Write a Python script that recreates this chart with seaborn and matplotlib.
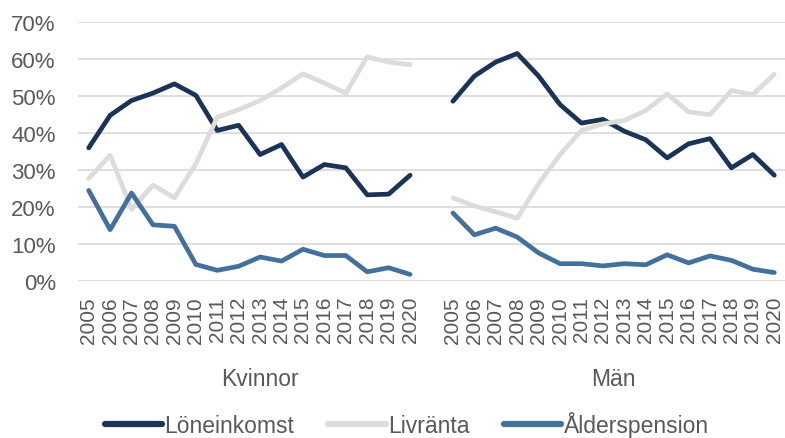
# Inkomstkällor per år, kvinnor och män, 2005-2020
import numpy as np
import pandas as pd
import matplotlib
matplotlib.use("Agg")
import matplotlib.pyplot as plt
import seaborn as sns

# Data (andel i procent)
years = list(range(2005, 2021))
groups = ["Kvinnor", "Män"]
series = ["Löneinkomst", "Livränta", "Ålderspension"]
colors = ["#1B3356", "#DDDCD8", "#44719B"]

kvinnor_lone = [35.9, 44.7, 48.7, 50.7, 53.2, 50.1, 40.6, 42.0, 34.1, 36.8, 28.0, 31.4, 30.5, 23.2, 23.4, 28.5]
kvinnor_livr = [27.6, 33.9, 19.3, 25.8, 22.4, 31.6, 44.2, 46.2, 48.7, 52.1, 55.9, 53.4, 50.7, 60.5, 59.1, 58.4]
kvinnor_alder = [24.4, 13.8, 23.7, 15.1, 14.7, 4.4, 2.8, 3.9, 6.4, 5.3, 8.5, 6.8, 6.8, 2.4, 3.5, 1.7]

man_lone = [48.5, 55.3, 59.1, 61.4, 55.3, 47.6, 42.6, 43.6, 40.4, 38.1, 33.2, 37.0, 38.4, 30.5, 34.1, 28.5]
man_livr = [22.4, 20.2, 18.6, 16.9, 26.2, 34.1, 40.6, 42.4, 43.3, 46.0, 50.5, 45.6, 44.9, 51.4, 50.3, 55.8]
man_alder = [18.3, 12.4, 14.2, 11.8, 7.5, 4.6, 4.6, 4.0, 4.6, 4.3, 7.0, 4.8, 6.7, 5.5, 3.1, 2.2]

values = {
    "Kvinnor": [kvinnor_lone, kvinnor_livr, kvinnor_alder],
    "Män": [man_lone, man_livr, man_alder],
}

# kategoriaxel: kvinnor, en tom plats, män
categories = [str(y) for y in years] + [""] + [str(y) for y in years]
offsets = {"Kvinnor": 0, "Män": len(years) + 1}

rows = []
for g in groups:
    for s, vals in zip(series, values[g]):
        for i, v in enumerate(vals):
            rows.append((g, s, offsets[g] + i, v / 100))
df = pd.DataFrame(rows, columns=["Grupp", "Serie", "Pos", "Andel"])

sns.set_theme(style="white")
plt.rcParams["font.family"] = ["Liberation Sans", "DejaVu Sans"]
text_color = "#595959"

fig = plt.figure(figsize=(7.85, 4.39), dpi=100)
ax = fig.add_axes([78 / 785, (439 - 281.7) / 439, 707 / 785, 259 / 439])

sns.lineplot(
    data=df, x="Pos", y="Andel", hue="Serie", units="Grupp", estimator=None,
    palette=colors, hue_order=series, linewidth=3.4, ax=ax, legend=False,
)

ax.set_xlim(-0.5, len(categories) - 0.5)
ax.set_ylim(0, 0.7)
ax.set_yticks(np.arange(0, 0.71, 0.1))
ax.set_yticklabels([f"{int(round(t * 100))}%" for t in np.arange(0, 0.71, 0.1)],
                   fontsize=16, color=text_color)
tick_pos = [i for i, c in enumerate(categories) if c]
ax.set_xticks(tick_pos)
ax.set_xticklabels([categories[i] for i in tick_pos], rotation=90, fontsize=15,
                   color=text_color, va="top")
ax.tick_params(axis="y", length=0, pad=16)
ax.tick_params(axis="x", length=0, pad=11)
ax.set_xlabel("")
ax.set_ylabel("")
ax.grid(axis="y", color="#D9D9D9", linewidth=1.2)
ax.grid(axis="x", visible=False)
for sp in ax.spines.values():
    sp.set_visible(False)

# gruppetiketter under årtalen
trans = ax.get_xaxis_transform()
ax.text(8, -0.378, "Kvinnor", transform=trans, ha="center", va="center",
        fontsize=16.5, color=text_color)
ax.text(24.5, -0.378, "Män", transform=trans, ha="center", va="center",
        fontsize=16.5, color=text_color)

handles = [plt.Line2D([], [], color=c, linewidth=4.5, solid_capstyle="round") for c in colors]
fig.legend(handles, series, loc="center", bbox_to_anchor=(0.518, 0.032), ncol=3,
           frameon=False, fontsize=16.5, labelcolor=text_color, handlelength=2.5,
           handletextpad=0.1, columnspacing=1.5, borderpad=0)

fig.savefig("out.png", dpi=100)
